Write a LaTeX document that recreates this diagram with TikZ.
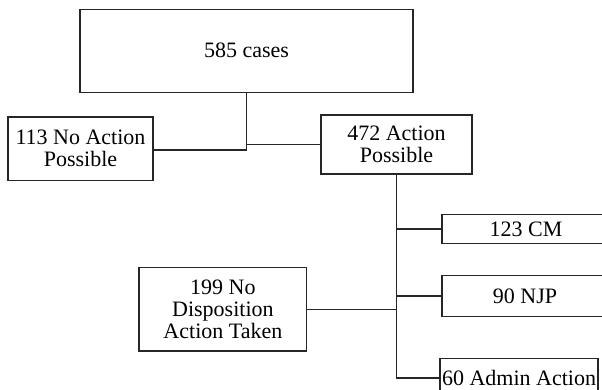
\documentclass[tikz,border=0pt]{standalone}
\usepackage{fontspec}
\setmainfont{Liberation Serif}
\begin{document}
\begin{tikzpicture}[x=1pt,y=-1pt,
  box/.style={draw=black!85,line width=1.3pt,rectangle,inner sep=0pt,align=center,
    font=\rmfamily\fontsize{22}{22}\selectfont,text=black},
  conn/.style={draw=black!85,line width=1.3pt}]
\useasboundingbox (0,0) rectangle (602,390);
\clip (0,0) rectangle (602,390);
\node[box,minimum width=333pt,minimum height=83pt] (cases) at (246.5,50.7) {585 cases};
\node[box,minimum width=145pt,minimum height=63.5pt] (noact) at (80.5,148.8) {113 No Action\\Possible};
\node[box,minimum width=151pt,minimum height=59pt] (act) at (396.5,144.5) {472 Action\\Possible};
\node[box,minimum width=168pt,minimum height=29pt] (cm) at (526,229) {123 CM};
\node[box,minimum width=166pt,minimum height=41.4pt] (njp) at (525,296) {90 NJP};
\node[box,minimum width=158pt,minimum height=39.4pt] (admin) at (519,378) {60 Admin Action};
\node[box,minimum width=167.7pt,minimum height=83.7pt] (nodisp) at (222.9,309.2) {199 No\\Disposition\\Action Taken};
\coordinate (j) at (246.5,150);
\draw[conn] (cases.south) -- (j) -- (j -| noact.east);
\draw[conn] (cases.south |- act.west) -- (act.west);
\draw[conn] (act.south) -- (act.south |- admin.west) -- (admin.west);
\draw[conn] (act.south |- cm.west) -- (cm.west);
\draw[conn] (act.south |- njp.west) -- (njp.west);
\draw[conn] (nodisp.east) -- (nodisp.east -| act.south);
\end{tikzpicture}
\end{document}
